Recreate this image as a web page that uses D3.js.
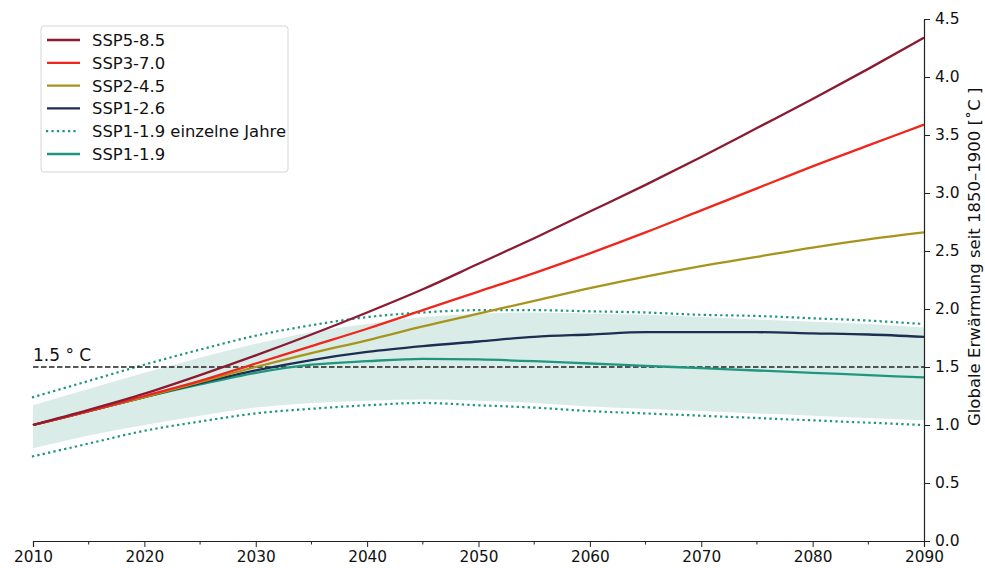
<!DOCTYPE html>
<html>
<head>
<meta charset="utf-8">
<script src="https://cdn.jsdelivr.net/npm/d3@7"></script>
<style>
  body { margin: 0; background: #fff; }
  svg { display: block; }
  .tick text { fill: #111; }
</style>
</head>
<body>
<svg id="chart" width="985" height="568"></svg>
<script>
// Years sampled for every series
const years = [2010, 2015, 2020, 2025, 2030, 2035, 2040, 2045, 2050, 2055, 2060, 2065, 2070, 2075, 2080, 2085, 2090];

// Global warming relative to 1850-1900 (°C)
const ssp585 = [1.00, 1.13, 1.27, 1.43, 1.60, 1.78, 1.97, 2.17, 2.39, 2.61, 2.84, 3.07, 3.31, 3.56, 3.81, 4.07, 4.34];
const ssp370 = [1.00, 1.12, 1.25, 1.38, 1.53, 1.68, 1.83, 1.99, 2.15, 2.31, 2.48, 2.66, 2.85, 3.04, 3.23, 3.41, 3.59];
const ssp245 = [1.00, 1.12, 1.24, 1.37, 1.50, 1.62, 1.73, 1.85, 1.96, 2.07, 2.18, 2.28, 2.37, 2.45, 2.53, 2.60, 2.66];
const ssp126 = [1.00, 1.12, 1.24, 1.36, 1.47, 1.56, 1.63, 1.68, 1.72, 1.76, 1.78, 1.80, 1.80, 1.80, 1.79, 1.78, 1.76];
const ssp119 = [1.00, 1.12, 1.24, 1.35, 1.45, 1.52, 1.55, 1.57, 1.565, 1.55, 1.53, 1.51, 1.49, 1.47, 1.45, 1.43, 1.41];

// SSP1-1.9 spread: shaded range and single-year envelope
const bandHigh = [1.17, 1.31, 1.45, 1.58, 1.70, 1.80, 1.87, 1.93, 1.96, 1.97, 1.96, 1.95, 1.93, 1.91, 1.89, 1.87, 1.84];
const bandLow  = [0.80, 0.91, 1.00, 1.08, 1.15, 1.19, 1.21, 1.22, 1.21, 1.19, 1.16, 1.14, 1.12, 1.10, 1.08, 1.06, 1.04];
const yearsHigh = [1.24, 1.38, 1.52, 1.65, 1.77, 1.86, 1.93, 1.97, 1.99, 1.99, 1.98, 1.97, 1.95, 1.94, 1.92, 1.90, 1.87];
const yearsLow  = [0.73, 0.84, 0.95, 1.03, 1.10, 1.14, 1.17, 1.19, 1.17, 1.15, 1.12, 1.10, 1.08, 1.06, 1.04, 1.02, 1.00];

const legendLabels = ["SSP5-8.5", "SSP3-7.0", "SSP2-4.5", "SSP1-2.6", "SSP1-1.9 einzelne Jahre", "SSP1-1.9"];
const xTicks = [2010, 2020, 2030, 2040, 2050, 2060, 2070, 2080, 2090];
const yTicks = [0, 0.5, 1, 1.5, 2, 2.5, 3, 3.5, 4, 4.5];
const threshold = 1.5;

const colors = {
  ssp585: "#8b1a33",
  ssp370: "#f0261c",
  ssp245: "#a8941c",
  ssp126: "#1d2e52",
  ssp119: "#21967f",
  band: "#d9ece8"
};

const FONT = "DejaVu Sans, Verdana, sans-serif";

const svg = d3.select("#chart");
const x = d3.scaleLinear().domain([2010, 2090]).range([33, 924]);
const y = d3.scaleLinear().domain([0, 4.5]).range([541, 19]);

const line = vals => d3.line()
  .x((d, i) => x(years[i]))
  .y(d => y(d))
  .curve(d3.curveMonotoneX)(vals);

// Shaded range
svg.append("path")
  .attr("d", d3.area()
    .x((d, i) => x(years[i]))
    .y0((d, i) => y(bandLow[i]))
    .y1(d => y(d))
    .curve(d3.curveMonotoneX)(bandHigh))
  .attr("fill", colors.band);

// Single-year envelope (dotted)
[yearsHigh, yearsLow].forEach(v => {
  svg.append("path")
    .attr("d", line(v))
    .attr("fill", "none")
    .attr("stroke", colors.ssp119)
    .attr("stroke-width", 2.2)
    .attr("stroke-dasharray", "0.1 5.4")
    .attr("stroke-linecap", "square");
});

// 1.5 °C threshold
svg.append("line")
  .attr("x1", x(2010)).attr("x2", x(2090))
  .attr("y1", y(threshold)).attr("y2", y(threshold))
  .attr("stroke", "#222").attr("stroke-width", 1.4)
  .attr("stroke-dasharray", "5.5 2.5");
svg.append("text")
  .attr("x", x(2010)).attr("y", y(threshold) - 6)
  .attr("font-family", FONT)
  .attr("font-size", 17)
  .attr("fill", "#111")
  .text("1.5 ° C");

// Scenario lines
[[ssp119, colors.ssp119], [ssp126, colors.ssp126], [ssp245, colors.ssp245], [ssp370, colors.ssp370], [ssp585, colors.ssp585]]
  .forEach(([v, c]) => {
    svg.append("path")
      .attr("d", line(v))
      .attr("fill", "none")
      .attr("stroke", c)
      .attr("stroke-width", 2.3);
  });

// Bottom axis
const xAxis = svg.append("g")
  .attr("transform", `translate(0,${y(0)})`)
  .call(d3.axisBottom(x).tickValues(xTicks).tickFormat(d3.format("d")).tickSize(6).tickPadding(4));
xAxis.selectAll(".tick text")
  .attr("font-family", FONT)
  .attr("font-size", 15.3);
xAxis.select(".domain").attr("stroke", "#222").attr("stroke-width", 1.2);
xAxis.selectAll(".tick line").attr("stroke", "#222");
// Minor ticks
svg.append("g").selectAll("line")
  .data(d3.range(2015, 2090, 10))
  .join("line")
  .attr("x1", d => x(d)).attr("x2", d => x(d))
  .attr("y1", y(0)).attr("y2", y(0) + 3.5)
  .attr("stroke", "#222");

// Right axis
const yAxis = svg.append("g")
  .attr("transform", `translate(${x(2090)},0)`)
  .call(d3.axisRight(y).tickValues(yTicks).tickFormat(d3.format(".1f")).tickSize(6).tickPadding(5));
yAxis.selectAll(".tick text")
  .attr("font-family", FONT)
  .attr("font-size", 15.5);
yAxis.select(".domain").attr("stroke", "#222").attr("stroke-width", 1.2);
yAxis.selectAll(".tick line").attr("stroke", "#222");

svg.append("text")
  .attr("transform", `translate(980,${y(2.45)}) rotate(-90)`)
  .attr("text-anchor", "middle")
  .attr("font-family", FONT)
  .attr("font-size", 16.5)
  .attr("fill", "#111")
  .text("Globale Erwärmung seit 1850–1900 [˚C ]");

// Legend
const legend = svg.append("g");
legend.append("rect")
  .attr("x", 41).attr("y", 26).attr("width", 247).attr("height", 146)
  .attr("rx", 3)
  .attr("fill", "#fff").attr("stroke", "#d6d6d6");
const legendColors = [colors.ssp585, colors.ssp370, colors.ssp245, colors.ssp126, colors.ssp119, colors.ssp119];
legendLabels.forEach((lab, i) => {
  const yy = 40 + i * 22.8;
  const l = legend.append("line")
    .attr("x1", 47).attr("x2", 80)
    .attr("y1", yy).attr("y2", yy)
    .attr("stroke", legendColors[i]);
  if (i === 4) {
    l.attr("stroke-width", 2.2).attr("stroke-dasharray", "0.1 5.4").attr("stroke-linecap", "square");
  } else {
    l.attr("stroke-width", 2.3);
  }
  legend.append("text")
    .attr("x", 92).attr("y", yy + 6)
    .attr("font-family", FONT)
    .attr("font-size", 16.4)
    .attr("fill", "#111")
    .text(lab);
});
</script>
</body>
</html>
